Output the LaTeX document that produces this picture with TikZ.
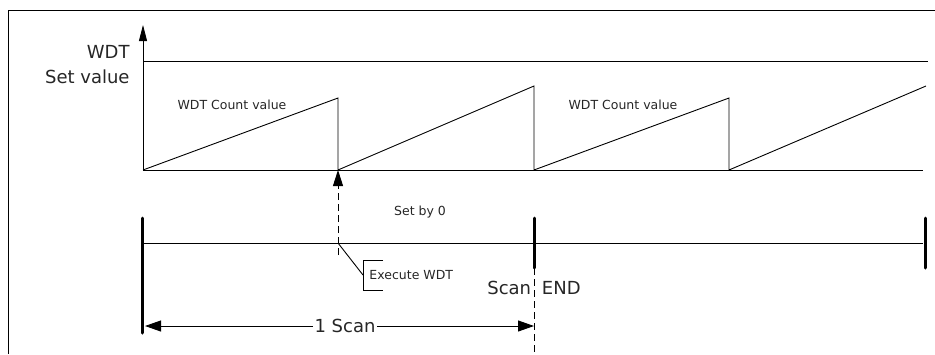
\documentclass[tikz,border=0pt]{standalone}
\usepackage{fontspec}
\setmainfont{DejaVu Sans}
\usetikzlibrary{arrows.meta}
\begin{document}
\begin{tikzpicture}[x=1pt,y=-1pt,line width=0.9pt,
  tickln/.style={line width=3pt,line cap=round},
  dashln/.style={dash pattern=on 7pt off 4pt},
  bigtxt/.style={font=\fontsize{18}{20}\selectfont,text=black!85,inner sep=1pt},
  smalltxt/.style={font=\fontsize{12.5}{14}\selectfont,text=black!85,inner sep=1pt},
  arr/.style={-{Triangle[length=16pt,width=11pt]}},
  axarr/.style={-{Triangle[length=16pt,width=8pt]}}]
\useasboundingbox (0,0) rectangle (935,354);
% frame
\draw (8,354) -- (8,10) -- (935,10);
% axes
\coordinate (O) at (143,170);
\coordinate (Ytop) at (143,25);
\draw[axarr] (O) -- (Ytop);
\coordinate (sv1) at (143,61);
\coordinate (sv2) at (928,61);
\draw (sv1) -- (sv2);
\coordinate (base2) at (923,170);
\draw (O) -- (base2);
% sawtooth
\coordinate (p1) at (338,98);  \coordinate (r1) at (338,170);
\coordinate (p2) at (534,86);  \coordinate (r2) at (534,170);
\coordinate (p3) at (729,98);  \coordinate (r3) at (729,170);
\coordinate (p4) at (926,86);
\draw (O) -- (p1) -- (r1) -- (p2) -- (r2) -- (p3) -- (r3) -- (p4);
% labels
\node[bigtxt,anchor=east] (wdt) at (131,52) {WDT};
\node[bigtxt,anchor=east] (setv) at (131,77) {Set value};
\node[smalltxt] (cnt1) at (232,105) {WDT Count value};
\node[smalltxt] (cnt2) at (623,105) {WDT Count value};
% reset arrow
\coordinate (ra) at (338,255);
\coordinate (rb) at (338,186);
\draw[dashln] (ra) -- (rb);
\draw[-{Triangle[length=16pt,width=10pt]}] (rb) -- (r1);
\node[smalltxt] (setby) at (420,212) {Set by 0};
% timeline
\coordinate (t0) at (143,243);
\coordinate (t1) at (923,243);
\draw (t0) -- (t1);
\coordinate (k0a) at (142,218); \coordinate (k0b) at (142,333);
\coordinate (k1a) at (534,218); \coordinate (k1b) at (534,268);
\coordinate (k2a) at (925,218); \coordinate (k2b) at (925,268);
\draw[tickln] (k0a) -- (k0b);
\draw[tickln] (k1a) -- (k1b);
\draw[tickln] (k2a) -- (k2b);
\coordinate (dend) at (534,354);
\draw[dashln] (k1b) -- (dend);
% execute WDT callout
\coordinate (ex) at (338,243);
\coordinate (bk) at (363,275);
\draw (ex) -- (bk);
\draw (383,260) -- (363,260) -- (363,290) -- (383,290);
\node[smalltxt,anchor=west] (exwdt) at (368,275) {Execute WDT};
\node[bigtxt] (scend) at (534,288) {Scan\hspace{0.6em}END};
% 1 scan
\node[bigtxt] (oscan) at (345,326) {1 Scan};
\coordinate (sl) at (145,326);
\coordinate (sr) at (534,326);
\draw[arr] (oscan.west) -- (sl);
\draw[arr] (oscan.east) -- (sr);
\end{tikzpicture}
\end{document}
